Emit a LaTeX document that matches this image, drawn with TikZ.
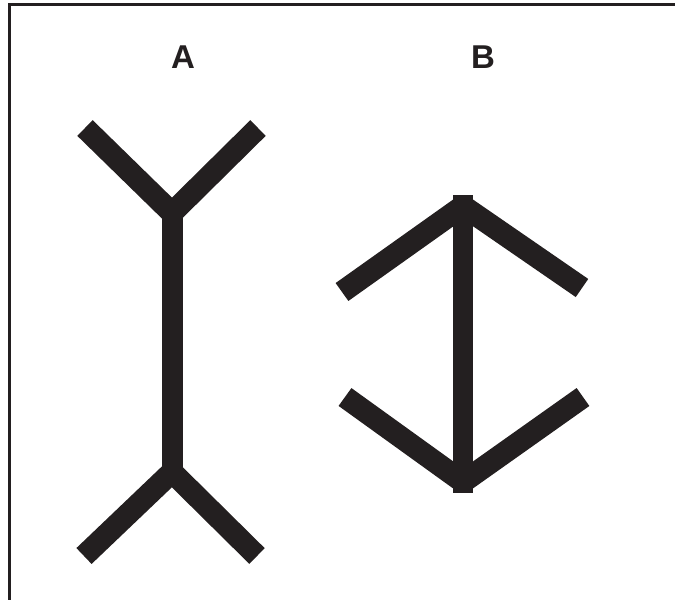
\documentclass[tikz,border=0pt]{standalone}
\usepackage{fontspec}
\setsansfont{Liberation Sans}
\usepackage{xcolor}
\usepackage{tikz}
\usetikzlibrary{positioning}
\definecolor{inkblack}{HTML}{231F20}

\begin{document}
\begin{tikzpicture}[
  x=1pt, y=-1pt,
  fin/.style={draw=inkblack, line width=22pt, line cap=butt},
  shaft/.style={draw=inkblack, line width=21pt, line cap=butt},
  tag/.style={inner sep=0pt, text=inkblack,
    font=\sffamily\bfseries\fontsize{33}{33}\selectfont}
]
\useasboundingbox (0,0) rectangle (675,600);
\draw[draw=inkblack, line width=3pt] (9,4.5) rectangle (720,660);
% labels
\node[tag] (labA) at (183,57) {A};
\node[tag] (labB) at (483,57) {B};
% figure A
\coordinate (aTop) at (172,213);
\coordinate (aBot) at (172,472);
\coordinate (aTL) at (85,128);
\coordinate (aTR) at (258,128);
\coordinate (aBL) at (84,556);
\coordinate (aBR) at (257,556);
\draw[shaft] (aTop) -- (aBot);
\draw[fin] (aTL) -- (aTop) -- (aTR);
\draw[fin] (aBL) -- (aBot) -- (aBR);
% figure B
\coordinate (bTop) at (463,195);
\coordinate (bBot) at (463,493);
\coordinate (bApex) at (463,206);
\coordinate (bVert) at (463,482);
\coordinate (bTL) at (342,292);
\coordinate (bTR) at (582,288);
\coordinate (bBL) at (345,397);
\coordinate (bBR) at (583,397);
\draw[shaft, line width=20pt] (bTop) -- (bBot);
\draw[fin] (bApex) -- (bTL);
\draw[fin] (bApex) -- (bTR);
\draw[fin] (bVert) -- (bBL);
\draw[fin] (bVert) -- (bBR);
\end{tikzpicture}
\end{document}
